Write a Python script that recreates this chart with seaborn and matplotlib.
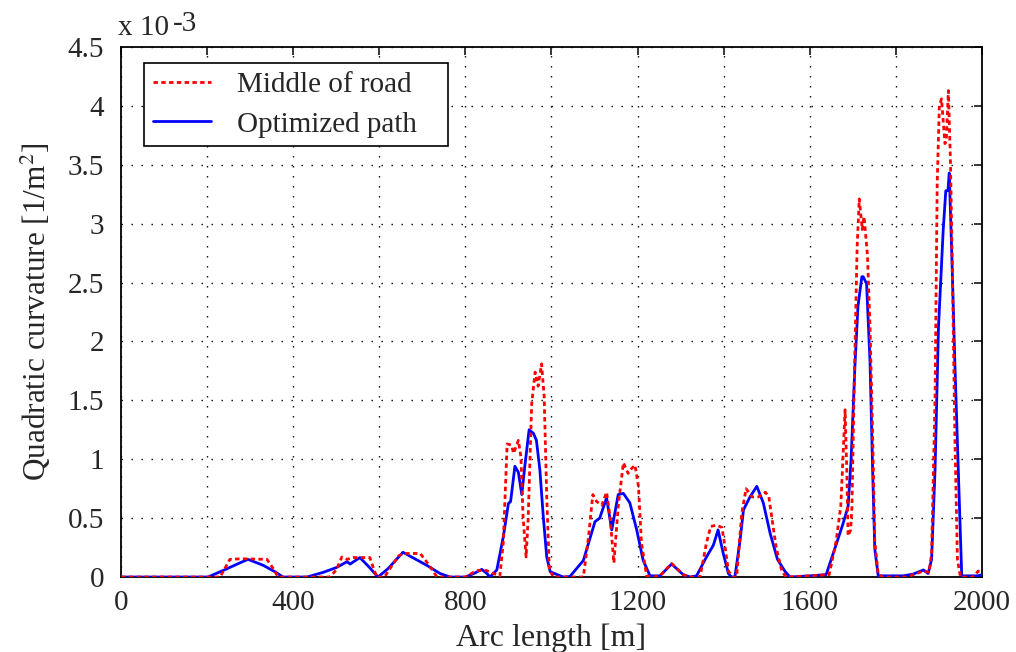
import matplotlib
matplotlib.use("Agg")
import matplotlib.pyplot as plt
import seaborn as sns

# Arc length [m] and quadratic curvature [1e-3 1/m^2]
road_s = [0, 230, 253, 280, 339, 352, 365, 485, 500, 513, 525, 540, 578, 586, 594,
          612, 630, 645, 657, 695, 714, 734, 800, 826, 849, 865, 880, 888, 897, 907,
          912, 923, 929, 934, 941, 946, 954, 962, 969, 977, 983, 989, 995, 1005,
          1074, 1086, 1096, 1105, 1117, 1128, 1136, 1145, 1155, 1167, 1178, 1186,
          1194, 1202, 1209, 1221, 1237, 1252, 1279, 1306, 1322, 1345, 1360, 1370,
          1384, 1396, 1403, 1411, 1422, 1430, 1442, 1452, 1466, 1481, 1497, 1505,
          1512, 1522, 1535, 1545, 1600, 1645, 1661, 1672, 1677, 1682, 1686, 1689,
          1695, 1698, 1703, 1710, 1715, 1722, 1726, 1728, 1734, 1740, 1746, 1751,
          1759, 1770, 1825, 1848, 1864, 1877, 1883, 1891, 1896, 1901, 1906, 1914,
          1917, 1922, 1927, 1932, 1937, 1943, 1950, 1980, 1991, 2000]
road_k = [0, 0, 0.15, 0.155, 0.15, 0.08, 0, 0, 0.06, 0.17, 0.15, 0.165, 0.165, 0.08, 0,
          0, 0.1, 0.18, 0.2, 0.2, 0.11, 0, 0, 0.055, 0.055, 0.03, 0.01, 0.29, 1.13, 1.12,
          1.05, 1.16, 1.02, 0.51, 0.17, 0.51, 1.47, 1.74, 1.62, 1.81, 1.53, 0.68, 0.06, 0,
          0, 0.34, 0.70, 0.64, 0.61, 0.72, 0.51, 0.12, 0.60, 0.97, 0.88, 0.92,
          0.95, 0.77, 0.29, 0.01, 0, 0.01, 0.115, 0.02, 0, 0, 0.29, 0.43,
          0.44, 0.42, 0.26, 0.05, 0, 0, 0.54, 0.75, 0.68, 0.68, 0.72, 0.68,
          0.5, 0.25, 0.05, 0, 0.01, 0.02, 0.3, 0.6, 1.0, 1.42, 0.9, 0.35,
          0.4, 0.6, 1.6, 2.8, 3.21, 2.95, 3.06, 2.98, 2.73, 2.12, 1.21, 0.3,
          0.02, 0, 0, 0.03, 0.05, 0.04, 0.2, 1.52, 3.34, 4.0, 4.06, 3.68,
          3.7, 4.13, 3.5, 2.43, 1.21, 0.15, 0, 0, 0.05, 0.05]

opt_s = [0, 202, 240, 270, 295, 330, 360, 376, 432, 470, 500, 525, 532, 555, 575, 597,
         620, 640, 655, 680, 710, 741, 764, 800, 820, 838, 850, 857, 873, 888, 900,
         905, 915, 923, 931, 938, 948, 958, 965, 973, 981, 989, 997, 1027, 1043,
         1074, 1101, 1112, 1124, 1128, 1140, 1155, 1167, 1182, 1198, 1213, 1229,
         1252, 1279, 1306, 1322, 1337, 1360, 1376, 1387, 1399, 1411, 1418, 1426,
         1438, 1446, 1461, 1477, 1492, 1508, 1525, 1542, 1554, 1600, 1638, 1659,
         1677, 1689, 1696, 1705, 1712, 1721, 1724, 1732, 1740, 1746, 1751, 1759,
         1817, 1840, 1864, 1875, 1883, 1891, 1899, 1910, 1916, 1921, 1924, 1930,
         1937, 1945, 1953, 1990, 2000]
opt_k = [0, 0, 0.06, 0.11, 0.15, 0.10, 0.04, 0, 0, 0.04, 0.08, 0.13, 0.11, 0.165, 0.09, 0,
         0.07, 0.15, 0.21, 0.16, 0.10, 0.03, 0, 0, 0.03, 0.065, 0.03, 0, 0.06, 0.34, 0.625,
         0.64, 0.94, 0.89, 0.70, 0.94, 1.25, 1.22, 1.16, 0.91, 0.51, 0.17, 0.045, 0, 0.005,
         0.14, 0.47, 0.5, 0.63, 0.67, 0.40, 0.70, 0.71, 0.63, 0.40, 0.14, 0.01,
         0.01, 0.11, 0.02, 0, 0.01, 0.17, 0.27, 0.40, 0.20, 0.03, 0, 0,
         0.31, 0.57, 0.68, 0.77, 0.63, 0.37, 0.15, 0.05, 0, 0.01, 0.02, 0.25,
         0.45, 0.6, 1.0, 1.8, 2.3, 2.55, 2.55, 2.49, 1.82, 0.91, 0.24, 0.01,
         0.01, 0.025, 0.06, 0.03, 0.15, 0.91, 2.12, 2.95, 3.28, 3.28, 3.43, 2.73,
         1.82, 0.91, 0.01, 0.01, 0.02]

x_ticks = list(range(0, 2001, 200))
x_labels = ["0", "", "400", "", "800", "", "1200", "", "1600", "", "2000"]
y_ticks = [0, 0.5, 1, 1.5, 2, 2.5, 3, 3.5, 4, 4.5]
y_labels = ["0", "0.5", "1", "1.5", "2", "2.5", "3", "3.5", "4", "4.5"]

sns.set_style("white")
plt.rcParams["font.family"] = ["Liberation Serif", "DejaVu Serif"]
plt.rcParams["mathtext.fontset"] = "stix"
fs = 21

fig = plt.figure(figsize=(10.16, 6.52), dpi=100)
ax = fig.add_axes([0.1191, 0.1150, 0.8474, 0.8129])

sns.lineplot(x=opt_s, y=opt_k, ax=ax, color="#0000ff", lw=2.0, sort=False,
             estimator=None, label="Optimized path", zorder=3)
sns.lineplot(x=road_s, y=road_k, ax=ax, color="#ff0000", lw=2.0, sort=False,
             estimator=None, label="Middle of road", zorder=4)
ax.lines[1].set_dashes((1.6, 1.2))

ax.set_xlim(0, 2000)
ax.set_ylim(0, 4.5)
ax.set_xticks(x_ticks)
ax.set_xticklabels(x_labels)
ax.set_yticks(y_ticks)
ax.set_yticklabels(y_labels)
ax.grid(True, color="black", lw=1.0, ls=(0, (1, 6.2)))
ax.tick_params(direction="in", length=6, width=1.3, labelsize=fs,
               top=True, right=True)
ax.tick_params(axis="y", pad=12)
ax.tick_params(axis="x", pad=9)
for sp in ax.spines.values():
    sp.set_visible(True)
    sp.set_color("black")
    sp.set_linewidth(1.3)

ax.set_xlabel("Arc length [m]", fontsize=23, labelpad=6)
ax.set_ylabel("Quadratic curvature [1/m$^2$]", fontsize=22.5, labelpad=11)

ax.text(-0.0035, 1.0226, "x 10", transform=ax.transAxes, fontsize=fs, ha="left", va="baseline")
ax.text(0.060, 1.030, "-3", transform=ax.transAxes, fontsize=fs, ha="left", va="baseline")

h, l = ax.get_legend_handles_labels()
leg = ax.legend(h[::-1], [s + "   " for s in l[::-1]], loc="upper left",
                bbox_to_anchor=(0.0267, 0.970),
                borderaxespad=0, fontsize=fs, handlelength=2.0, handletextpad=0.9,
                labelspacing=0.45, borderpad=0.3, fancybox=False, framealpha=1)
leg.get_frame().set_edgecolor("black")
leg.get_frame().set_linewidth(1.2)
leg.get_lines()[0].set_dashes((1.6, 1.2))

fig.savefig("out.png", dpi=100)
